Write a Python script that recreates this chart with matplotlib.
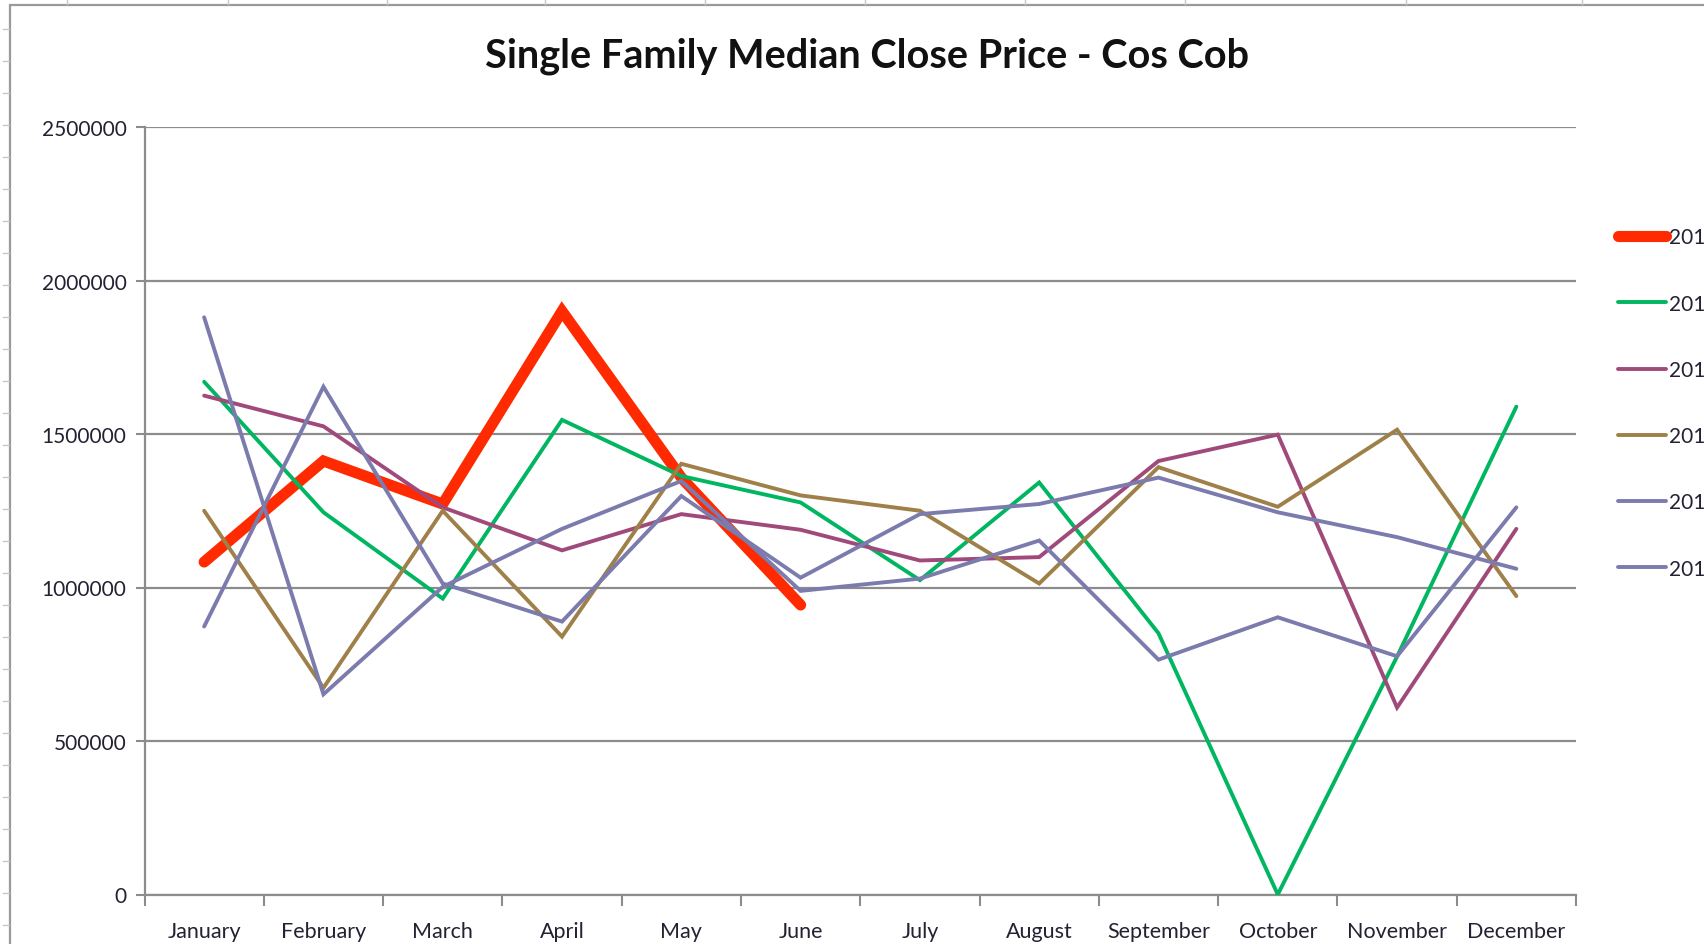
import matplotlib
matplotlib.use("Agg")
import matplotlib.pyplot as plt
from matplotlib.lines import Line2D
from matplotlib.patches import Rectangle

months = ["January", "February", "March", "April", "May", "June", "July",
          "August", "September", "October", "November", "December"]
years = ["2017", "2016", "2015", "2014", "2013", "2012"]

v2017 = [1083000, 1412000, 1272000, 1900000, 1358000, 943000]
v2016 = [1670000, 1245000, 964000, 1546000, 1363000, 1277000, 1024000,
         1342000, 851000, 0, 775000, 1589000]
v2015 = [1625000, 1525000, 1261000, 1121000, 1239000, 1188000, 1088000,
         1099000, 1412000, 1498000, 609000, 1191000]
v2014 = [1250000, 673000, 1250000, 840000, 1403000, 1300000, 1250000,
         1013000, 1392000, 1263000, 1514000, 972000]
v2013 = [1880000, 652000, 1002000, 1191000, 1347000, 989000, 1029000,
         1153000, 765000, 903000, 776000, 1261000]
v2012 = [873000, 1654000, 1013000, 889000, 1298000, 1032000, 1239000,
         1272000, 1358000, 1245000, 1164000, 1061000]

series = [v2017, v2016, v2015, v2014, v2013, v2012]
colors = ["#FF2A00", "#00B661", "#A04A7C", "#9E8048", "#7B7BAE", "#7B7BAE"]
widths = [8.0, 2.8, 2.8, 2.8, 2.8, 2.8]

yticks = [0, 500000, 1000000, 1500000, 2000000, 2500000]
title = "Single Family Median Close Price - Cos Cob"

plt.rcParams["font.family"] = ["Lato", "DejaVu Sans"]

W, H = 1704, 945
fig = plt.figure(figsize=(W / 100, H / 100), dpi=100)
fig.patch.set_facecolor("white")

left, right = 144.5 / W, 1576 / W
top, bottom = 1 - 128 / H, 1 - 895.5 / H
ax = fig.add_axes([left, bottom, right - left, top - bottom])

grey = "#8C8C8C"
txtc = "#222233"
for i, (vals, c, lw, lab) in enumerate(zip(series, colors, widths, years)):
    x = list(range(len(vals)))
    ax.plot(x, vals, color=c, lw=lw, label=lab, solid_capstyle="round",
            solid_joinstyle="miter", zorder=3 + i)

ax.set_xlim(-0.5, 11.5)
ax.set_ylim(0, 2500000)
ax.set_yticks(yticks)
ax.set_yticklabels([str(t) for t in yticks])
ax.set_xticks(range(12))
ax.set_xticklabels(months)
ax.set_xticks([i - 0.5 for i in range(13)], minor=True)
ax.tick_params(axis="x", which="major", length=0, pad=19, labelsize=15.5,
               labelcolor=txtc)
ax.tick_params(axis="x", which="minor", length=8, width=1.5, color=grey,
               direction="out")
ax.tick_params(axis="y", length=6.5, width=1.5, color=grey, pad=6.5,
               labelsize=15, labelcolor=txtc)
ax.yaxis.grid(True, color=grey, lw=1.6, zorder=1)
ax.set_axisbelow(True)
for s in ["top", "right"]:
    ax.spines[s].set_visible(False)
for s in ["left", "bottom"]:
    ax.spines[s].set_color(grey)
    ax.spines[s].set_linewidth(1.6)

fig.text(867 / W, 1 - 56 / H, title, ha="center", va="center",
         fontsize=28.5, fontweight="bold", color="#111111")

# legend sits partly beyond the right edge, as in the original screenshot
leg = ax.legend(loc="upper left", bbox_to_anchor=(1610 / W, 1 - 220 / H),
                bbox_transform=fig.transFigure, frameon=False,
                fontsize=15, labelspacing=2.22, handlelength=2.3,
                handletextpad=0.15, borderaxespad=0)
for t in leg.get_texts():
    t.set_color(txtc)

# outer chart frame
fig.patches.append(Rectangle((10 / W, -0.05), 1.1, 1 - 6 / H + 0.05,
                             transform=fig.transFigure, fill=False,
                             edgecolor="#9a9a9a", lw=1.6, zorder=0))
# faint sheet tick marks outside frame
for yy in range(30, 945, 32):
    fig.add_artist(Line2D([3 / W, 9 / W], [1 - yy / H, 1 - yy / H],
                          color="#c8c8c8", lw=1, transform=fig.transFigure))
for xx in [67, 228, 387, 545, 705, 865, 1025, 1185, 1406, 1582]:
    fig.add_artist(Line2D([xx / W, xx / W], [1 - 1 / H, 1 - 5 / H],
                          color="#c8c8c8", lw=1, transform=fig.transFigure))

fig.savefig("out.png", dpi=100, facecolor="white")
